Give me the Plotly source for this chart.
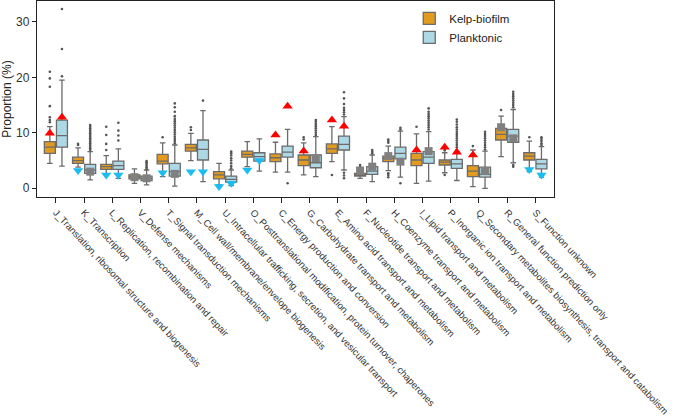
import plotly.graph_objects as go

categories = [
    "J_Translation, ribosomal structure and biogenesis",
    "K_Transcription",
    "L_Replication, recombination and repair",
    "V_Defense mechanisms",
    "T_Signal transduction mechanisms",
    "M_Cell wall/membrane/envelope biogenesis",
    "U_Intracellular trafficking, secretion, and vesicular transport",
    "O_Posttranslational modification, protein turnover, chaperones",
    "C_Energy production and conversion",
    "G_Carbohydrate transport and metabolism",
    "E_Amino acid transport and metabolism",
    "F_Nucleotide transport and metabolism",
    "H_Coenzyme transport and metabolism",
    "I_Lipid transport and metabolism",
    "P_Inorganic ion transport and metabolism",
    "Q_Secondary metabolites biosynthesis, transport and catabolism",
    "R_General function prediction only",
    "S_Function unknown",
]

# Kelp-biofilm box statistics
kelp_low = [4.5, 3.8, 2.6, 0.9, 2.1, 5.0, 0.6, 3.9, 2.9, 2.4, 4.8, 1.8, 3.2, 0.9, 2.8, 0.3, 5.7, 3.0]
kelp_q1 = [6.3, 4.5, 3.4, 1.7, 4.4, 6.7, 1.7, 5.6, 4.8, 4.1, 6.3, 2.2, 4.8, 4.1, 4.2, 2.1, 8.7, 5.1]
kelp_med = [7.4, 5.0, 3.9, 2.1, 4.9, 7.3, 2.4, 6.1, 5.5, 5.1, 7.1, 2.4, 5.4, 5.1, 4.7, 3.1, 9.7, 5.8]
kelp_q3 = [8.4, 5.6, 4.3, 2.4, 6.1, 7.9, 3.0, 6.7, 6.2, 6.0, 8.0, 2.7, 5.8, 6.3, 5.1, 4.1, 10.8, 6.4]
kelp_high = [11.1, 7.3, 5.9, 3.5, 8.2, 9.9, 4.5, 8.4, 8.3, 8.2, 11.1, 3.6, 7.6, 9.8, 6.4, 6.9, 13.0, 8.5]

# Planktonic box statistics
plank_low = [4.0, 1.5, 1.8, 0.6, 0.4, 1.2, 0.5, 3.1, 2.9, 2.1, 3.3, 1.2, 2.0, 1.3, 1.4, 0.0, 4.6, 2.0]
plank_q1 = [7.4, 2.7, 3.4, 1.4, 2.2, 5.1, 1.1, 4.9, 5.6, 3.7, 6.9, 2.5, 5.3, 4.5, 3.6, 2.0, 8.3, 3.5]
plank_med = [9.5, 3.3, 4.1, 1.8, 3.0, 7.0, 1.6, 5.7, 6.5, 4.6, 7.9, 3.1, 6.3, 5.6, 4.4, 2.5, 9.4, 4.4]
plank_q3 = [12.3, 4.3, 4.9, 2.2, 4.5, 8.7, 2.2, 6.4, 7.6, 6.0, 9.4, 3.9, 7.4, 6.6, 5.2, 3.8, 10.6, 5.2]
plank_high = [19.5, 6.6, 7.1, 3.3, 7.8, 14.0, 3.3, 8.9, 10.6, 9.3, 12.9, 6.0, 10.3, 10.2, 6.6, 6.7, 14.2, 7.5]

# Outlier values per category
kelp_outliers = [
    [11.9, 12.3, 12.8, 14.8, 18.3, 19.8, 21.0],
    [7.8, 8.0],
    [6.9, 8.0, 9.6, 11.1],
    [],
    [9.2],
    [10.5, 11.0],
    [],
    [],
    [],
    [8.8, 9.2],
    [2.4],
    [3.9, 4.2],
    [8.2, 8.5, 8.8, 2.0, 2.4, 2.7],
    [11.1],
    [6.8, 7.0, 2.4],
    [7.6],
    [14.1],
    [9.2],
]
plank_outliers = [
    [20.2, 25.1, 32.3],
    [6.9, 7.2, 7.5, 7.8, 8.1, 8.4, 8.7, 9.0, 9.3, 9.6, 9.9, 10.2, 10.5, 10.8, 11.1, 11.4],
    [8.6, 9.5, 10.4, 11.8],
    [3.5, 3.8, 4.1, 4.4, 4.7, 4.9],
    [8.1, 8.5, 8.9, 9.3, 9.7, 10.1, 10.5, 10.9, 11.3, 11.7, 12.1, 12.5, 13.0, 13.8, 14.6, 15.3],
    [15.8],
    [3.6, 4.0, 4.5, 5.0, 5.4, 5.9, 6.3, 6.6],
    [],
    [0.9],
    [9.6, 10.0, 10.4, 10.8, 11.2, 11.6, 12.0, 12.3],
    [13.3, 13.7, 14.1, 14.5, 15.2, 16.2, 17.3, 2.8, 2.3, 1.8],
    [6.3, 6.6, 6.9],
    [10.6, 10.9, 0.9],
    [10.6, 11.0, 11.4, 11.8, 12.2, 12.6, 13.0, 13.4, 13.8, 14.4],
    [7.0, 7.4, 7.8, 8.2, 8.6, 9.0, 9.4, 9.8, 10.2, 10.6, 11.0, 11.5, 12.0, 12.4],
    [7.0, 7.4, 7.8, 8.2, 8.6, 9.0, 9.4, 9.8, 10.2],
    [14.6, 15.0, 15.4, 15.8, 16.2, 16.6, 17.0, 17.4, 4.2, 3.9],
    [7.8, 8.1, 8.5, 8.9, 9.2],
]

# Reference markers: value and kind ("up" = red triangle, "down" = blue triangle, "sq" = grey square)
kelp_ref = [9.9, 3.2, 2.4, 2.0, 2.8, 3.0, 0.3, 3.3, 9.6, 6.7, 12.3, 3.2, 5.8, 6.9, 7.4, 6.0, 11.0, 3.4]
kelp_kind = ["up", "down", "down", "sq", "down", "down", "down", "down", "up", "up", "up", "sq", "sq", "up", "up", "up", "sq", "down"]
plank_ref = [12.8, 3.0, 2.4, 1.8, 2.6, 3.0, 0.9, 5.0, 14.8, 5.4, 11.2, 3.9, 4.8, 6.7, 6.5, 3.1, 9.0, 2.4]
plank_kind = ["up", "sq", "down", "sq", "sq", "down", "down", "down", "up", "sq", "up", "sq", "sq", "sq", "up", "sq", "sq", "down"]

KELP_COL = "#E29A1F"
PLANK_COL = "#ADD8E6"
EDGE = "#6b6b6b"
OFF = 0.215
idx = list(range(len(categories)))
kelp_x = [i - OFF for i in idx]
plank_x = [i + OFF for i in idx]

fig = go.Figure()

for name, xs, lo, q1, med, q3, hi, col in [
    ("Kelp-biofilm", kelp_x, kelp_low, kelp_q1, kelp_med, kelp_q3, kelp_high, KELP_COL),
    ("Planktonic", plank_x, plank_low, plank_q1, plank_med, plank_q3, plank_high, PLANK_COL),
]:
    fig.add_trace(go.Box(
        name=name, x=xs, q1=q1, median=med, q3=q3, lowerfence=lo, upperfence=hi,
        width=0.39, fillcolor=col, line=dict(color=EDGE, width=1.3),
        whiskerwidth=0.5, boxpoints=False, hoverinfo="skip",
    ))

for xs, outs in [(kelp_x, kelp_outliers), (plank_x, plank_outliers)]:
    ox, oy = [], []
    for x, vals in zip(xs, outs):
        for v in vals:
            ox.append(x)
            oy.append(v)
    fig.add_trace(go.Scatter(x=ox, y=oy, mode="markers", showlegend=False,
                             marker=dict(size=2.6, color="#555555")))

styles = {
    "up": dict(symbol="triangle-up", size=9, color="#FF0000"),
    "down": dict(symbol="triangle-down", size=9, color="#19BDF2"),
    "sq": dict(symbol="square", size=8, color="#808080"),
}
for kind, st in styles.items():
    mx, my = [], []
    for xs, refs, kinds in [(kelp_x, kelp_ref, kelp_kind), (plank_x, plank_ref, plank_kind)]:
        for x, v, k in zip(xs, refs, kinds):
            if k == kind:
                mx.append(x)
                my.append(v)
    fig.add_trace(go.Scatter(x=mx, y=my, mode="markers", showlegend=False,
                             marker=dict(symbol=st["symbol"], size=st["size"], color=st["color"],
                                         line=dict(width=0))))

fig.update_layout(
    width=685, height=420,
    margin=dict(l=37, r=131, t=1, b=223, autoexpand=False),
    plot_bgcolor="white", paper_bgcolor="white",
    font=dict(family="Liberation Sans, Arial, sans-serif", size=11, color="#222222"),
    showlegend=True,
    legend=dict(x=0.72, y=0.985, xanchor="left", yanchor="top",
                bgcolor="rgba(0,0,0,0)", font=dict(size=11.5), tracegroupgap=2),
    boxmode="overlay",
)
fig.update_xaxes(
    tickmode="array", tickvals=idx, ticktext=categories, tickangle=47,
    range=[-0.67, 17.66], showline=True, linecolor="#222222", linewidth=1.3, mirror=True,
    ticks="outside", ticklen=5, tickcolor="#222222", showgrid=False, zeroline=False,
    tickfont=dict(size=9.6, color="#333333"), automargin=False,
)
fig.update_yaxes(
    range=[-1.57, 33.75], tickvals=[0, 10, 20, 30], showline=True, linecolor="#222222",
    linewidth=1.3, mirror=True, ticks="outside", ticklen=4, tickcolor="#222222",
    showgrid=False, zeroline=False, tickfont=dict(size=12, color="#333333"), automargin=False,
    title=dict(text="Proportion (%)", font=dict(size=12), standoff=4),
)

fig.write_html("out.html", config={"displayModeBar": False},
               post_script="document.body.style.margin='0px';")
